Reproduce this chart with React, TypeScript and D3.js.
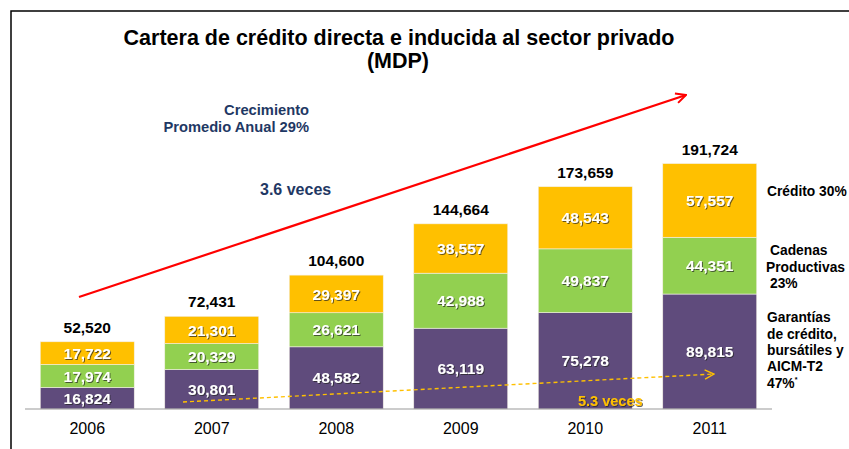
import React from "react";
import * as d3 from "d3";

const years = ["2006", "2007", "2008", "2009", "2010", "2011"];
const garantias = [16824, 30801, 48582, 63119, 75278, 89815];
const cadenas = [17974, 20329, 26621, 42988, 49837, 44351];
const credito = [17722, 21301, 29397, 38557, 48543, 57557];
const totals = [52520, 72431, 104600, 144664, 173659, 191724];

const seriesNames = ["garantias", "cadenas", "credito"];
const seriesColors = ["#5F4B7C", "#92D050", "#FFC000"];

const W = 849;
const H = 449;
const FONT = "'Liberation Sans', Arial, sans-serif";

export default function App() {
  const x = d3.scaleBand<string>().domain(years).range([25, 772]).paddingInner(0.245).paddingOuter(0.1225);
  const y = d3.scaleLinear().domain([0, 200000]).range([409, 153]);

  const rows = years.map((yr, i) => ({
    year: yr,
    garantias: garantias[i],
    cadenas: cadenas[i],
    credito: credito[i],
  }));
  const stack = d3.stack<any>().keys(seriesNames)(rows);
  const fmt = d3.format(",");

  return (
    <svg width={W} height={H} style={{ position: "absolute", left: 0, top: 0 }} fontFamily={FONT}>
      <defs>
        <filter id="shadow" x="-20%" y="-20%" width="140%" height="140%">
          <feDropShadow dx="1" dy="1" stdDeviation="0.6" floodColor="#222" floodOpacity="0.7" />
        </filter>
        <marker id="redHead" viewBox="0 0 12 12" refX="11" refY="6" markerWidth="12" markerHeight="12" markerUnits="userSpaceOnUse" orient="auto">
          <path d="M1,1 L11,6 L1,11" fill="none" stroke="#FF0000" strokeWidth="2" />
        </marker>
        <marker id="orHead" viewBox="0 0 12 12" refX="11" refY="6" markerWidth="11" markerHeight="11" markerUnits="userSpaceOnUse" orient="auto">
          <path d="M1,1 L11,6 L1,11" fill="none" stroke="#FFC000" strokeWidth="1.5" />
        </marker>
      </defs>
      <rect x={0} y={0} width={W} height={H} fill="#fff" />
      {/* frame */}
      <path d={`M11,449 L11,11 L849,11`} fill="none" stroke="#000" strokeWidth={1.5} />

      {/* title */}
      <text x={399} y={45} textAnchor="middle" fontSize={21.5} fontWeight="bold" fill="#000">
        Cartera de crédito directa e inducida al sector privado
      </text>
      <text x={398} y={68} textAnchor="middle" fontSize={21.5} fontWeight="bold" fill="#000">
        (MDP)
      </text>

      {/* bars */}
      {stack.map((s, si) => (
        <g key={seriesNames[si]}>
          {s.map((d, i) => (
            <rect
              key={years[i]}
              x={x(years[i])}
              y={y(d[1])}
              width={x.bandwidth()}
              height={y(d[0]) - y(d[1])}
              fill={seriesColors[si]}
              stroke="#f4f0e8"
              strokeWidth={0.6}
            />
          ))}
        </g>
      ))}
      {/* segment labels */}
      {stack.map((s, si) => (
        <g key={"l" + seriesNames[si]}>
          {s.map((d, i) => (
            <text
              key={years[i]}
              x={(x(years[i]) as number) + x.bandwidth() / 2}
              y={(y(d[0]) + y(d[1])) / 2}
              dy="0.36em"
              textAnchor="middle"
              fontSize={15.5}
              fontWeight="bold"
              fill="#fff"
              filter="url(#shadow)"
            >
              {fmt(d[1] - d[0])}
            </text>
          ))}
        </g>
      ))}
      {/* totals */}
      {totals.map((t, i) => (
        <text
          key={years[i]}
          x={(x(years[i]) as number) + x.bandwidth() / 2}
          y={y(t) - 9}
          textAnchor="middle"
          fontSize={15.5}
          fontWeight="bold"
          fill="#000"
        >
          {fmt(t)}
        </text>
      ))}

      {/* axis */}
      <line x1={25} x2={772} y1={409} y2={409} stroke="#999" strokeWidth={1.2} />
      {years.map((yr) => (
        <text key={yr} x={(x(yr) as number) + x.bandwidth() / 2} y={434} textAnchor="middle" fontSize={16} fill="#000">
          {yr}
        </text>
      ))}

      {/* annotations */}
      <line x1={79} y1={297} x2={686} y2={95} stroke="#FF0000" strokeWidth={2.2} markerEnd="url(#redHead)" />
      <text x={309} y={115} textAnchor="end" fontSize={14.7} fontWeight="bold" fill="#1F3864">Crecimiento</text>
      <text x={309} y={132} textAnchor="end" fontSize={14.7} fontWeight="bold" fill="#1F3864">Promedio Anual 29%</text>
      <text x={260} y={195} fontSize={16} fontWeight="bold" fill="#1F3864">3.6 veces</text>

      <line x1={183} y1={402} x2={714} y2={374} stroke="#FFC000" strokeWidth={1.4} strokeDasharray="4,3" markerEnd="url(#orHead)" />
      <text x={578} y={406} fontSize={14.5} fontWeight="bold" fill="#FFC000" filter="url(#shadow)">5.3 veces</text>

      {/* right labels */}
      <g fontSize={13.8} fontWeight="bold" fill="#000">
        <text x={767} y={196}>Crédito 30%</text>
        <text x={770} y={255}>Cadenas</text>
        <text x={766} y={272}>Productivas</text>
        <text x={770} y={288}> 23%</text>
        <text x={767} y={322}>Garantías</text>
        <text x={767} y={339}>de crédito,</text>
        <text x={767} y={355}>bursátiles y</text>
        <text x={767} y={371}>AICM-T2</text>
        <text x={767} y={388}>47%<tspan fontSize={7} dy={-6}>*</tspan></text>
      </g>
    </svg>
  );
}
